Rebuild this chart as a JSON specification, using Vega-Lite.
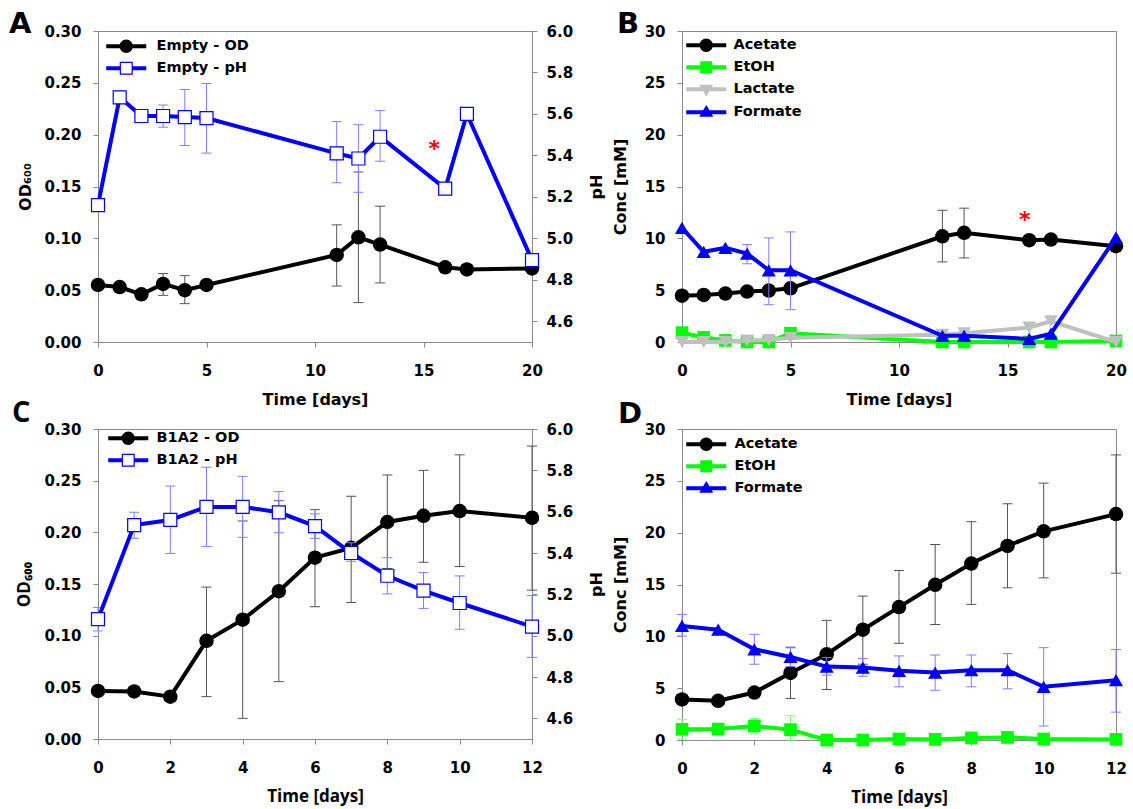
{
  "$schema": "https://vega.github.io/schema/vega-lite/v6.json",
  "background": "white",
  "padding": {"left": 8, "top": 9, "right": 5, "bottom": 2},
  "config": {
    "font": "DejaVu Sans",
    "view": {"stroke": "#8a8a8a", "strokeWidth": 1},
    "axis": {"grid": false, "domainColor": "#8a8a8a", "tickColor": "#8a8a8a", "tickSize": 5, "labelFont": "DejaVu Sans", "labelFontSize": 15, "labelFontWeight": "bold", "labelColor": "#000000", "titleFont": "DejaVu Sans", "titleFontSize": 16, "titleFontWeight": "bold", "titleColor": "#000000", "labelFlush": false, "labelOverlap": false},
    "axisX": {"labelPadding": 16, "titlePadding": 13},
    "axisY": {"labelPadding": 12},
    "title": {"font": "DejaVu Sans", "fontSize": 29, "fontWeight": "bold", "color": "#000000", "anchor": "start", "frame": "group", "offset": 0}
  },
  "datasets": {
    "A": [
      {"t": 0, "s": "Empty - OD", "v": 0.055},
      {"t": 1, "s": "Empty - OD", "v": 0.053},
      {"t": 2, "s": "Empty - OD", "v": 0.046},
      {"t": 3, "s": "Empty - OD", "v": 0.056, "lo": 0.045, "hi": 0.066},
      {"t": 4, "s": "Empty - OD", "v": 0.050, "lo": 0.037, "hi": 0.064},
      {"t": 5, "s": "Empty - OD", "v": 0.055},
      {"t": 11, "s": "Empty - OD", "v": 0.084, "lo": 0.054, "hi": 0.113},
      {"t": 12, "s": "Empty - OD", "v": 0.101, "lo": 0.038, "hi": 0.164},
      {"t": 13, "s": "Empty - OD", "v": 0.094, "lo": 0.057, "hi": 0.131},
      {"t": 16, "s": "Empty - OD", "v": 0.072},
      {"t": 17, "s": "Empty - OD", "v": 0.070},
      {"t": 20, "s": "Empty - OD", "v": 0.071},
      {"t": 0, "s": "Empty - pH", "v": 5.16},
      {"t": 1, "s": "Empty - pH", "v": 5.68, "lo": 5.665, "hi": 5.70},
      {"t": 2, "s": "Empty - pH", "v": 5.59},
      {"t": 3, "s": "Empty - pH", "v": 5.59, "lo": 5.536, "hi": 5.643},
      {"t": 4, "s": "Empty - pH", "v": 5.585, "lo": 5.448, "hi": 5.718},
      {"t": 5, "s": "Empty - pH", "v": 5.58, "lo": 5.411, "hi": 5.747},
      {"t": 11, "s": "Empty - pH", "v": 5.41, "lo": 5.268, "hi": 5.563},
      {"t": 12, "s": "Empty - pH", "v": 5.385, "lo": 5.222, "hi": 5.548},
      {"t": 13, "s": "Empty - pH", "v": 5.49, "lo": 5.372, "hi": 5.616},
      {"t": 16, "s": "Empty - pH", "v": 5.24},
      {"t": 17, "s": "Empty - pH", "v": 5.60},
      {"t": 20, "s": "Empty - pH", "v": 4.895}
    ],
    "B": [
      {"t": 0, "s": "Acetate", "v": 4.47},
      {"t": 1, "s": "Acetate", "v": 4.54},
      {"t": 2, "s": "Acetate", "v": 4.67},
      {"t": 3, "s": "Acetate", "v": 4.86},
      {"t": 4, "s": "Acetate", "v": 4.96},
      {"t": 5, "s": "Acetate", "v": 5.18},
      {"t": 12, "s": "Acetate", "v": 10.2, "lo": 7.73, "hi": 12.71},
      {"t": 13, "s": "Acetate", "v": 10.53, "lo": 8.11, "hi": 12.91},
      {"t": 16, "s": "Acetate", "v": 9.82},
      {"t": 17, "s": "Acetate", "v": 9.88},
      {"t": 20, "s": "Acetate", "v": 9.24},
      {"t": 0, "s": "EtOH", "v": 0.9},
      {"t": 1, "s": "EtOH", "v": 0.45},
      {"t": 2, "s": "EtOH", "v": 0.15},
      {"t": 3, "s": "EtOH", "v": 0},
      {"t": 4, "s": "EtOH", "v": 0},
      {"t": 5, "s": "EtOH", "v": 0.85, "lo": 0.4, "hi": 1.3},
      {"t": 12, "s": "EtOH", "v": 0},
      {"t": 13, "s": "EtOH", "v": 0},
      {"t": 16, "s": "EtOH", "v": 0},
      {"t": 17, "s": "EtOH", "v": 0},
      {"t": 20, "s": "EtOH", "v": 0.1},
      {"t": 0, "s": "Lactate", "v": 0},
      {"t": 1, "s": "Lactate", "v": 0},
      {"t": 2, "s": "Lactate", "v": 0},
      {"t": 3, "s": "Lactate", "v": 0.15},
      {"t": 4, "s": "Lactate", "v": 0.2},
      {"t": 5, "s": "Lactate", "v": 0.4},
      {"t": 12, "s": "Lactate", "v": 0.7},
      {"t": 13, "s": "Lactate", "v": 0.85},
      {"t": 16, "s": "Lactate", "v": 1.4},
      {"t": 17, "s": "Lactate", "v": 2.0},
      {"t": 20, "s": "Lactate", "v": 0},
      {"t": 0, "s": "Formate", "v": 11.0},
      {"t": 1, "s": "Formate", "v": 8.7},
      {"t": 2, "s": "Formate", "v": 9.08},
      {"t": 3, "s": "Formate", "v": 8.53, "lo": 7.55, "hi": 9.4},
      {"t": 4, "s": "Formate", "v": 6.92, "lo": 3.6, "hi": 10.04},
      {"t": 5, "s": "Formate", "v": 6.92, "lo": 3.12, "hi": 10.62},
      {"t": 12, "s": "Formate", "v": 0.6},
      {"t": 13, "s": "Formate", "v": 0.6},
      {"t": 16, "s": "Formate", "v": 0.3},
      {"t": 17, "s": "Formate", "v": 0.8},
      {"t": 20, "s": "Formate", "v": 10.1}
    ],
    "C": [
      {"t": 0, "s": "B1A2 - OD", "v": 0.0465},
      {"t": 1, "s": "B1A2 - OD", "v": 0.046},
      {"t": 2, "s": "B1A2 - OD", "v": 0.041},
      {"t": 3, "s": "B1A2 - OD", "v": 0.095, "lo": 0.041, "hi": 0.147},
      {"t": 4, "s": "B1A2 - OD", "v": 0.1155, "lo": 0.020, "hi": 0.211},
      {"t": 5, "s": "B1A2 - OD", "v": 0.143, "lo": 0.0555, "hi": 0.2306},
      {"t": 6, "s": "B1A2 - OD", "v": 0.1755, "lo": 0.128, "hi": 0.222},
      {"t": 7, "s": "B1A2 - OD", "v": 0.185, "lo": 0.132, "hi": 0.235},
      {"t": 8, "s": "B1A2 - OD", "v": 0.210, "lo": 0.165, "hi": 0.2555},
      {"t": 9, "s": "B1A2 - OD", "v": 0.216, "lo": 0.171, "hi": 0.260},
      {"t": 10, "s": "B1A2 - OD", "v": 0.2206, "lo": 0.167, "hi": 0.275},
      {"t": 12, "s": "B1A2 - OD", "v": 0.214, "lo": 0.144, "hi": 0.2835},
      {"t": 0, "s": "B1A2 - pH", "v": 5.08, "lo": 5.023, "hi": 5.137},
      {"t": 1, "s": "B1A2 - pH", "v": 5.535, "lo": 5.471, "hi": 5.597},
      {"t": 2, "s": "B1A2 - pH", "v": 5.56, "lo": 5.398, "hi": 5.724},
      {"t": 3, "s": "B1A2 - pH", "v": 5.623, "lo": 5.431, "hi": 5.815},
      {"t": 4, "s": "B1A2 - pH", "v": 5.623, "lo": 5.476, "hi": 5.771},
      {"t": 5, "s": "B1A2 - pH", "v": 5.597, "lo": 5.498, "hi": 5.697},
      {"t": 6, "s": "B1A2 - pH", "v": 5.53, "lo": 5.471, "hi": 5.589},
      {"t": 7, "s": "B1A2 - pH", "v": 5.40, "lo": 5.36, "hi": 5.45},
      {"t": 8, "s": "B1A2 - pH", "v": 5.29, "lo": 5.202, "hi": 5.377},
      {"t": 9, "s": "B1A2 - pH", "v": 5.218, "lo": 5.132, "hi": 5.305},
      {"t": 10, "s": "B1A2 - pH", "v": 5.158, "lo": 5.031, "hi": 5.289},
      {"t": 12, "s": "B1A2 - pH", "v": 5.044, "lo": 4.895, "hi": 5.194}
    ],
    "D": [
      {"t": 0, "s": "Acetate", "v": 3.91},
      {"t": 1, "s": "Acetate", "v": 3.78},
      {"t": 2, "s": "Acetate", "v": 4.58},
      {"t": 3, "s": "Acetate", "v": 6.47, "lo": 4.0, "hi": 8.9},
      {"t": 4, "s": "Acetate", "v": 8.27, "lo": 4.87, "hi": 11.54},
      {"t": 5, "s": "Acetate", "v": 10.64, "lo": 7.31, "hi": 13.88},
      {"t": 6, "s": "Acetate", "v": 12.82, "lo": 9.33, "hi": 16.35},
      {"t": 7, "s": "Acetate", "v": 14.97, "lo": 11.15, "hi": 18.85},
      {"t": 8, "s": "Acetate", "v": 17.02, "lo": 13.08, "hi": 21.06},
      {"t": 9, "s": "Acetate", "v": 18.72, "lo": 14.68, "hi": 22.79},
      {"t": 10, "s": "Acetate", "v": 20.13, "lo": 15.64, "hi": 24.78},
      {"t": 12, "s": "Acetate", "v": 21.79, "lo": 16.09, "hi": 27.5},
      {"t": 0, "s": "EtOH", "v": 1.03, "lo": 0.1, "hi": 2.0},
      {"t": 1, "s": "EtOH", "v": 1.06},
      {"t": 2, "s": "EtOH", "v": 1.35, "lo": 0.58, "hi": 2.08},
      {"t": 3, "s": "EtOH", "v": 1.0, "lo": 0, "hi": 2.34},
      {"t": 4, "s": "EtOH", "v": 0},
      {"t": 5, "s": "EtOH", "v": 0},
      {"t": 6, "s": "EtOH", "v": 0.1},
      {"t": 7, "s": "EtOH", "v": 0.06},
      {"t": 8, "s": "EtOH", "v": 0.2},
      {"t": 9, "s": "EtOH", "v": 0.25},
      {"t": 10, "s": "EtOH", "v": 0.1},
      {"t": 12, "s": "EtOH", "v": 0.06},
      {"t": 0, "s": "Formate", "v": 11.0, "lo": 10.03, "hi": 12.12},
      {"t": 1, "s": "Formate", "v": 10.64},
      {"t": 2, "s": "Formate", "v": 8.75, "lo": 7.31, "hi": 10.19},
      {"t": 3, "s": "Formate", "v": 8.01, "lo": 7.08, "hi": 8.97},
      {"t": 4, "s": "Formate", "v": 7.08, "lo": 6.25, "hi": 7.95},
      {"t": 5, "s": "Formate", "v": 6.99, "lo": 6.15, "hi": 7.85},
      {"t": 6, "s": "Formate", "v": 6.67, "lo": 5.13, "hi": 8.11},
      {"t": 7, "s": "Formate", "v": 6.51, "lo": 4.81, "hi": 8.2},
      {"t": 8, "s": "Formate", "v": 6.73, "lo": 5.13, "hi": 8.2},
      {"t": 9, "s": "Formate", "v": 6.73, "lo": 4.94, "hi": 8.33},
      {"t": 10, "s": "Formate", "v": 5.13, "lo": 1.35, "hi": 8.91},
      {"t": 12, "s": "Formate", "v": 5.77, "lo": 2.69, "hi": 8.72}
    ]
  },
  "resolve": {"scale": {"color": "independent", "shape": "independent"}},
  "spacing": -10,
  "vconcat": [
    {
      "spacing": 5,
      "resolve": {"scale": {"color": "independent", "shape": "independent"}},
      "hconcat": [
        {
          "width": 434, "height": 311,
          "title": {"text": "A", "dx": -89, "dy": 19},
          "data": {"name": "A"},
          "resolve": {"scale": {"y": "independent"}},
          "layer": [
            {
              "layer": [
                {"transform": [{"filter": "datum.s === 'Empty - OD' && isValid(datum.lo)"}],
                 "mark": {"type": "rule", "color": "#555555", "strokeWidth": 1},
                 "encoding": {
                   "x": {"field": "t", "type": "quantitative", "scale": {"domain": [0, 20], "nice": false}, "axis": {"values": [0, 5, 10, 15, 20], "title": "Time [days]"}},
                   "y": {"field": "lo", "type": "quantitative", "scale": {"domain": [0, 0.3], "nice": false}, "axis": {"orient": "left", "values": [0, 0.05, 0.1, 0.15, 0.2, 0.25, 0.3], "format": ".2f", "title": "OD₆₀₀", "titlePadding": 10}},
                   "y2": {"field": "hi"}}},
                {"transform": [{"filter": "datum.s === 'Empty - OD' && isValid(datum.lo)"}],
                 "mark": {"type": "tick", "orient": "horizontal", "color": "#555555", "thickness": 1, "size": 10, "opacity": 1},
                 "encoding": {"x": {"field": "t", "type": "quantitative"}, "y": {"field": "lo", "type": "quantitative"}}},
                {"transform": [{"filter": "datum.s === 'Empty - OD' && isValid(datum.lo)"}],
                 "mark": {"type": "tick", "orient": "horizontal", "color": "#555555", "thickness": 1, "size": 10, "opacity": 1},
                 "encoding": {"x": {"field": "t", "type": "quantitative"}, "y": {"field": "hi", "type": "quantitative"}}},
                {"transform": [{"filter": "datum.s === 'Empty - OD'"}],
                 "mark": {"type": "line", "color": "#000000", "strokeWidth": 4},
                 "encoding": {"x": {"field": "t", "type": "quantitative"}, "y": {"field": "v", "type": "quantitative"}}},
                {"transform": [{"filter": "datum.s === 'Empty - OD'"}],
                 "mark": {"type": "point", "shape": "circle", "filled": true, "color": "#000000", "size": 210, "opacity": 1},
                 "encoding": {"x": {"field": "t", "type": "quantitative"}, "y": {"field": "v", "type": "quantitative"}}},
                {"mark": {"type": "point", "filled": true, "opacity": 0},
                 "encoding": {
                   "color": {"field": "s", "type": "nominal", "scale": {"domain": ["Empty - OD", "Empty - pH"], "range": ["#000000", "#0000ff"]},
                     "legend": {"title": null, "orient": "none", "legendX": 21, "legendY": 8, "symbolSize": 196, "symbolStrokeWidth": 0, "symbolOpacity": 1, "labelOffset": 23, "rowPadding": 7, "padding": 0, "labelFont": "DejaVu Sans", "labelFontWeight": "bold", "labelFontSize": 14.5, "labelColor": "#000000"}},
                   "shape": {"field": "s", "type": "nominal", "scale": {"domain": ["Empty - OD", "Empty - pH"], "range": ["M-2.86,-0.29H2.86V0.29H-2.86Z M-0.95,0A0.95,0.95,0,1,1,0.95,0A0.95,0.95,0,1,1,-0.95,0Z", "M-2.86,-0.29H-0.93V0.29H-2.86Z M0.93,-0.29H2.86V0.29H0.93Z M-0.93,-0.93H0.93V0.93H-0.93Z M-0.76,-0.76V0.76H0.76V-0.76Z"]},
                     "legend": {"title": null, "orient": "none", "legendX": 21, "legendY": 8, "symbolSize": 196, "symbolStrokeWidth": 0, "symbolOpacity": 1, "labelOffset": 23, "rowPadding": 7, "padding": 0, "labelFont": "DejaVu Sans", "labelFontWeight": "bold", "labelFontSize": 14.5, "labelColor": "#000000"}}}}
              ]
            },
            {
              "layer": [
                {"transform": [{"filter": "datum.s === 'Empty - pH' && isValid(datum.lo)"}],
                 "mark": {"type": "rule", "color": "#7f7fff", "strokeWidth": 1},
                 "encoding": {
                   "x": {"field": "t", "type": "quantitative"},
                   "y": {"field": "lo", "type": "quantitative", "scale": {"domain": [4.5, 6.0], "nice": false, "zero": false}, "axis": {"orient": "right", "values": [4.6, 4.8, 5.0, 5.2, 5.4, 5.6, 5.8, 6.0], "format": ".1f", "title": "pH", "titleAngle": 270, "titleBaseline": "top", "titlePadding": 16, "labelPadding": 9}},
                   "y2": {"field": "hi"}}},
                {"transform": [{"filter": "datum.s === 'Empty - pH' && isValid(datum.lo)"}],
                 "mark": {"type": "tick", "orient": "horizontal", "color": "#7f7fff", "thickness": 1, "size": 10, "opacity": 1},
                 "encoding": {"x": {"field": "t", "type": "quantitative"}, "y": {"field": "lo", "type": "quantitative"}}},
                {"transform": [{"filter": "datum.s === 'Empty - pH' && isValid(datum.lo)"}],
                 "mark": {"type": "tick", "orient": "horizontal", "color": "#7f7fff", "thickness": 1, "size": 10, "opacity": 1},
                 "encoding": {"x": {"field": "t", "type": "quantitative"}, "y": {"field": "hi", "type": "quantitative"}}},
                {"transform": [{"filter": "datum.s === 'Empty - pH'"}],
                 "mark": {"type": "line", "color": "#0000ff", "strokeWidth": 4},
                 "encoding": {"x": {"field": "t", "type": "quantitative"}, "y": {"field": "v", "type": "quantitative"}}},
                {"transform": [{"filter": "datum.s === 'Empty - pH'"}],
                 "mark": {"type": "point", "shape": "square", "filled": true, "fill": "#ffffff", "stroke": "#0000ff", "strokeWidth": 1.2, "size": 169, "opacity": 1},
                 "encoding": {"x": {"field": "t", "type": "quantitative"}, "y": {"field": "v", "type": "quantitative"}}},
                {"data": {"values": [{"t": 15.5, "v": 5.45}]},
                 "mark": {"type": "text", "text": "*", "color": "#ff0000", "fontSize": 22, "font": "DejaVu Sans", "fontWeight": "bold", "baseline": "middle", "dy": 4},
                 "encoding": {"x": {"field": "t", "type": "quantitative"}, "y": {"field": "v", "type": "quantitative"}}}
              ]
            }
          ]
        },
        {
          "width": 434, "height": 311,
          "title": {"text": "B", "dx": -65, "dy": 19},
          "data": {"name": "B"},
          "layer": [
            {"transform": [{"filter": "datum.s === 'Acetate' && isValid(datum.lo)"}],
             "mark": {"type": "rule", "color": "#555555", "strokeWidth": 1},
             "encoding": {
               "x": {"field": "t", "type": "quantitative", "scale": {"domain": [0, 20], "nice": false}, "axis": {"values": [0, 5, 10, 15, 20], "title": "Time [days]"}},
               "y": {"field": "lo", "type": "quantitative", "scale": {"domain": [0, 30], "nice": false}, "axis": {"orient": "left", "values": [0, 5, 10, 15, 20, 25, 30], "title": "Conc [mM]", "titlePadding": 16}},
               "y2": {"field": "hi"}}},
            {"transform": [{"filter": "datum.s === 'Acetate' && isValid(datum.lo)"}],
             "mark": {"type": "tick", "orient": "horizontal", "color": "#555555", "thickness": 1, "size": 10, "opacity": 1},
             "encoding": {"x": {"field": "t", "type": "quantitative"}, "y": {"field": "lo", "type": "quantitative"}}},
            {"transform": [{"filter": "datum.s === 'Acetate' && isValid(datum.lo)"}],
             "mark": {"type": "tick", "orient": "horizontal", "color": "#555555", "thickness": 1, "size": 10, "opacity": 1},
             "encoding": {"x": {"field": "t", "type": "quantitative"}, "y": {"field": "hi", "type": "quantitative"}}},
            {"transform": [{"filter": "datum.s === 'Acetate'"}],
             "mark": {"type": "line", "color": "#000000", "strokeWidth": 4},
             "encoding": {"x": {"field": "t", "type": "quantitative"}, "y": {"field": "v", "type": "quantitative"}}},
            {"transform": [{"filter": "datum.s === 'Acetate'"}],
             "mark": {"type": "point", "shape": "circle", "filled": true, "color": "#000000", "size": 210, "opacity": 1},
             "encoding": {"x": {"field": "t", "type": "quantitative"}, "y": {"field": "v", "type": "quantitative"}}},
            {"transform": [{"filter": "datum.s === 'EtOH' && isValid(datum.lo)"}],
             "mark": {"type": "rule", "color": "#80ff80", "strokeWidth": 1},
             "encoding": {"x": {"field": "t", "type": "quantitative"}, "y": {"field": "lo", "type": "quantitative"}, "y2": {"field": "hi"}}},
            {"transform": [{"filter": "datum.s === 'EtOH' && isValid(datum.lo)"}],
             "mark": {"type": "tick", "orient": "horizontal", "color": "#80ff80", "thickness": 1, "size": 10, "opacity": 1},
             "encoding": {"x": {"field": "t", "type": "quantitative"}, "y": {"field": "hi", "type": "quantitative"}}},
            {"transform": [{"filter": "datum.s === 'EtOH'"}],
             "mark": {"type": "line", "color": "#00ff00", "strokeWidth": 4},
             "encoding": {"x": {"field": "t", "type": "quantitative"}, "y": {"field": "v", "type": "quantitative"}}},
            {"transform": [{"filter": "datum.s === 'EtOH'"}],
             "mark": {"type": "point", "shape": "square", "filled": true, "color": "#00ff00", "size": 160, "opacity": 1},
             "encoding": {"x": {"field": "t", "type": "quantitative"}, "y": {"field": "v", "type": "quantitative"}}},
            {"transform": [{"filter": "datum.s === 'Lactate'"}],
             "mark": {"type": "line", "color": "#c0c0c0", "strokeWidth": 4},
             "encoding": {"x": {"field": "t", "type": "quantitative"}, "y": {"field": "v", "type": "quantitative"}}},
            {"transform": [{"filter": "datum.s === 'Lactate'"}],
             "mark": {"type": "point", "shape": "triangle-down", "filled": true, "color": "#c0c0c0", "size": 190, "opacity": 1},
             "encoding": {"x": {"field": "t", "type": "quantitative"}, "y": {"field": "v", "type": "quantitative"}}},
            {"transform": [{"filter": "datum.s === 'Formate' && isValid(datum.lo)"}],
             "mark": {"type": "rule", "color": "#7f7fff", "strokeWidth": 1},
             "encoding": {"x": {"field": "t", "type": "quantitative"}, "y": {"field": "lo", "type": "quantitative"}, "y2": {"field": "hi"}}},
            {"transform": [{"filter": "datum.s === 'Formate' && isValid(datum.lo)"}],
             "mark": {"type": "tick", "orient": "horizontal", "color": "#7f7fff", "thickness": 1, "size": 10, "opacity": 1},
             "encoding": {"x": {"field": "t", "type": "quantitative"}, "y": {"field": "lo", "type": "quantitative"}}},
            {"transform": [{"filter": "datum.s === 'Formate' && isValid(datum.lo)"}],
             "mark": {"type": "tick", "orient": "horizontal", "color": "#7f7fff", "thickness": 1, "size": 10, "opacity": 1},
             "encoding": {"x": {"field": "t", "type": "quantitative"}, "y": {"field": "hi", "type": "quantitative"}}},
            {"transform": [{"filter": "datum.s === 'Formate'"}],
             "mark": {"type": "line", "color": "#0000ff", "strokeWidth": 4},
             "encoding": {"x": {"field": "t", "type": "quantitative"}, "y": {"field": "v", "type": "quantitative"}}},
            {"transform": [{"filter": "datum.s === 'Formate'"}],
             "mark": {"type": "point", "shape": "triangle-up", "filled": true, "color": "#0000ff", "size": 200, "opacity": 1},
             "encoding": {"x": {"field": "t", "type": "quantitative"}, "y": {"field": "v", "type": "quantitative"}}},
            {"data": {"values": [{"t": 15.8, "v": 12.2}]},
             "mark": {"type": "text", "text": "*", "color": "#ff0000", "fontSize": 22, "font": "DejaVu Sans", "fontWeight": "bold", "baseline": "middle", "dy": 4},
             "encoding": {"x": {"field": "t", "type": "quantitative"}, "y": {"field": "v", "type": "quantitative"}}},
            {"mark": {"type": "point", "filled": true, "opacity": 0},
             "encoding": {
               "color": {"field": "s", "type": "nominal", "scale": {"domain": ["Acetate", "EtOH", "Lactate", "Formate"], "range": ["#000000", "#00ff00", "#c0c0c0", "#0000ff"]},
                 "legend": {"title": null, "orient": "none", "legendX": 17, "legendY": 7, "symbolSize": 196, "symbolStrokeWidth": 0, "symbolOpacity": 1, "labelOffset": 20, "rowPadding": 7, "padding": 0, "labelFont": "DejaVu Sans", "labelFontWeight": "bold", "labelFontSize": 14.5, "labelColor": "#000000"}},
               "shape": {"field": "s", "type": "nominal", "scale": {"domain": ["Acetate", "EtOH", "Lactate", "Formate"], "range": ["M-2.86,-0.29H2.86V0.29H-2.86Z M-0.95,0A0.95,0.95,0,1,1,0.95,0A0.95,0.95,0,1,1,-0.95,0Z", "M-2.86,-0.29H2.86V0.29H-2.86Z M-0.86,-0.86H0.86V0.86H-0.86Z", "M-2.86,-0.29H2.86V0.29H-2.86Z M-1,-0.65H1L0,1.05Z", "M-2.86,-0.29H2.86V0.29H-2.86Z M0,-1.05L1,0.65H-1Z"]},
                 "legend": {"title": null, "orient": "none", "legendX": 17, "legendY": 7, "symbolSize": 196, "symbolStrokeWidth": 0, "symbolOpacity": 1, "labelOffset": 20, "rowPadding": 7, "padding": 0, "labelFont": "DejaVu Sans", "labelFontWeight": "bold", "labelFontSize": 14.5, "labelColor": "#000000"}}}}
          ]
        }
      ]
    },
    {
      "spacing": 5,
      "resolve": {"scale": {"color": "independent", "shape": "independent"}},
      "hconcat": [
        {
          "width": 434, "height": 310,
          "title": {"text": "C", "dx": -86, "dy": 10, "font": "Open Sans"},
          "data": {"name": "C"},
          "resolve": {"scale": {"y": "independent"}},
          "layer": [
            {
              "layer": [
                {"transform": [{"filter": "datum.s === 'B1A2 - OD' && isValid(datum.lo)"}],
                 "mark": {"type": "rule", "color": "#555555", "strokeWidth": 1},
                 "encoding": {
                   "x": {"field": "t", "type": "quantitative", "scale": {"domain": [0, 12], "nice": false}, "axis": {"values": [0, 2, 4, 6, 8, 10, 12], "title": "Time [days]", "titleFont": "Open Sans", "titleFontSize": 17}},
                   "y": {"field": "lo", "type": "quantitative", "scale": {"domain": [0, 0.3], "nice": false}, "axis": {"orient": "left", "values": [0, 0.05, 0.1, 0.15, 0.2, 0.25, 0.3], "format": ".2f", "title": "OD₆₀₀", "titlePadding": 10, "titleFont": "Open Sans", "titleFontSize": 17}},
                   "y2": {"field": "hi"}}},
                {"transform": [{"filter": "datum.s === 'B1A2 - OD' && isValid(datum.lo)"}],
                 "mark": {"type": "tick", "orient": "horizontal", "color": "#555555", "thickness": 1, "size": 10, "opacity": 1},
                 "encoding": {"x": {"field": "t", "type": "quantitative"}, "y": {"field": "lo", "type": "quantitative"}}},
                {"transform": [{"filter": "datum.s === 'B1A2 - OD' && isValid(datum.lo)"}],
                 "mark": {"type": "tick", "orient": "horizontal", "color": "#555555", "thickness": 1, "size": 10, "opacity": 1},
                 "encoding": {"x": {"field": "t", "type": "quantitative"}, "y": {"field": "hi", "type": "quantitative"}}},
                {"transform": [{"filter": "datum.s === 'B1A2 - OD'"}],
                 "mark": {"type": "line", "color": "#000000", "strokeWidth": 4},
                 "encoding": {"x": {"field": "t", "type": "quantitative"}, "y": {"field": "v", "type": "quantitative"}}},
                {"transform": [{"filter": "datum.s === 'B1A2 - OD'"}],
                 "mark": {"type": "point", "shape": "circle", "filled": true, "color": "#000000", "size": 210, "opacity": 1},
                 "encoding": {"x": {"field": "t", "type": "quantitative"}, "y": {"field": "v", "type": "quantitative"}}},
                {"mark": {"type": "point", "filled": true, "opacity": 0},
                 "encoding": {
                   "color": {"field": "s", "type": "nominal", "scale": {"domain": ["B1A2 - OD", "B1A2 - pH"], "range": ["#000000", "#0000ff"]},
                     "legend": {"title": null, "orient": "none", "legendX": 23, "legendY": 2, "symbolSize": 196, "symbolStrokeWidth": 0, "symbolOpacity": 1, "labelOffset": 21, "rowPadding": 7, "padding": 0, "labelFont": "DejaVu Sans", "labelFontWeight": "bold", "labelFontSize": 14.5, "labelColor": "#000000"}},
                   "shape": {"field": "s", "type": "nominal", "scale": {"domain": ["B1A2 - OD", "B1A2 - pH"], "range": ["M-2.86,-0.29H2.86V0.29H-2.86Z M-0.95,0A0.95,0.95,0,1,1,0.95,0A0.95,0.95,0,1,1,-0.95,0Z", "M-2.86,-0.29H-0.93V0.29H-2.86Z M0.93,-0.29H2.86V0.29H0.93Z M-0.93,-0.93H0.93V0.93H-0.93Z M-0.76,-0.76V0.76H0.76V-0.76Z"]},
                     "legend": {"title": null, "orient": "none", "legendX": 23, "legendY": 2, "symbolSize": 196, "symbolStrokeWidth": 0, "symbolOpacity": 1, "labelOffset": 21, "rowPadding": 7, "padding": 0, "labelFont": "DejaVu Sans", "labelFontWeight": "bold", "labelFontSize": 14.5, "labelColor": "#000000"}}}}
              ]
            },
            {
              "layer": [
                {"transform": [{"filter": "datum.s === 'B1A2 - pH' && isValid(datum.lo)"}],
                 "mark": {"type": "rule", "color": "#7f7fff", "strokeWidth": 1},
                 "encoding": {
                   "x": {"field": "t", "type": "quantitative"},
                   "y": {"field": "lo", "type": "quantitative", "scale": {"domain": [4.5, 6.0], "nice": false, "zero": false}, "axis": {"orient": "right", "values": [4.6, 4.8, 5.0, 5.2, 5.4, 5.6, 5.8, 6.0], "format": ".1f", "title": "pH", "titleAngle": 270, "titleBaseline": "top", "titlePadding": 16, "labelPadding": 9}},
                   "y2": {"field": "hi"}}},
                {"transform": [{"filter": "datum.s === 'B1A2 - pH' && isValid(datum.lo)"}],
                 "mark": {"type": "tick", "orient": "horizontal", "color": "#7f7fff", "thickness": 1, "size": 10, "opacity": 1},
                 "encoding": {"x": {"field": "t", "type": "quantitative"}, "y": {"field": "lo", "type": "quantitative"}}},
                {"transform": [{"filter": "datum.s === 'B1A2 - pH' && isValid(datum.lo)"}],
                 "mark": {"type": "tick", "orient": "horizontal", "color": "#7f7fff", "thickness": 1, "size": 10, "opacity": 1},
                 "encoding": {"x": {"field": "t", "type": "quantitative"}, "y": {"field": "hi", "type": "quantitative"}}},
                {"transform": [{"filter": "datum.s === 'B1A2 - pH'"}],
                 "mark": {"type": "line", "color": "#0000ff", "strokeWidth": 4},
                 "encoding": {"x": {"field": "t", "type": "quantitative"}, "y": {"field": "v", "type": "quantitative"}}},
                {"transform": [{"filter": "datum.s === 'B1A2 - pH'"}],
                 "mark": {"type": "point", "shape": "square", "filled": true, "fill": "#ffffff", "stroke": "#0000ff", "strokeWidth": 1.2, "size": 169, "opacity": 1},
                 "encoding": {"x": {"field": "t", "type": "quantitative"}, "y": {"field": "v", "type": "quantitative"}}}
              ]
            }
          ]
        },
        {
          "width": 434, "height": 311,
          "title": {"text": "D", "dx": -64, "dy": 11},
          "data": {"name": "D"},
          "layer": [
            {"transform": [{"filter": "datum.s === 'Acetate' && isValid(datum.lo)"}],
             "mark": {"type": "rule", "color": "#555555", "strokeWidth": 1},
             "encoding": {
               "x": {"field": "t", "type": "quantitative", "scale": {"domain": [0, 12], "nice": false}, "axis": {"values": [0, 2, 4, 6, 8, 10, 12], "title": "Time [days]", "titleFont": "Open Sans", "titleFontSize": 17}},
               "y": {"field": "lo", "type": "quantitative", "scale": {"domain": [0, 30], "nice": false}, "axis": {"orient": "left", "values": [0, 5, 10, 15, 20, 25, 30], "title": "Conc [mM]", "titlePadding": 16}},
               "y2": {"field": "hi"}}},
            {"transform": [{"filter": "datum.s === 'Acetate' && isValid(datum.lo)"}],
             "mark": {"type": "tick", "orient": "horizontal", "color": "#555555", "thickness": 1, "size": 10, "opacity": 1},
             "encoding": {"x": {"field": "t", "type": "quantitative"}, "y": {"field": "lo", "type": "quantitative"}}},
            {"transform": [{"filter": "datum.s === 'Acetate' && isValid(datum.lo)"}],
             "mark": {"type": "tick", "orient": "horizontal", "color": "#555555", "thickness": 1, "size": 10, "opacity": 1},
             "encoding": {"x": {"field": "t", "type": "quantitative"}, "y": {"field": "hi", "type": "quantitative"}}},
            {"transform": [{"filter": "datum.s === 'Acetate'"}],
             "mark": {"type": "line", "color": "#000000", "strokeWidth": 4},
             "encoding": {"x": {"field": "t", "type": "quantitative"}, "y": {"field": "v", "type": "quantitative"}}},
            {"transform": [{"filter": "datum.s === 'Acetate'"}],
             "mark": {"type": "point", "shape": "circle", "filled": true, "color": "#000000", "size": 210, "opacity": 1},
             "encoding": {"x": {"field": "t", "type": "quantitative"}, "y": {"field": "v", "type": "quantitative"}}},
            {"transform": [{"filter": "datum.s === 'EtOH' && isValid(datum.lo)"}],
             "mark": {"type": "rule", "color": "#80ff80", "strokeWidth": 1},
             "encoding": {"x": {"field": "t", "type": "quantitative"}, "y": {"field": "lo", "type": "quantitative"}, "y2": {"field": "hi"}}},
            {"transform": [{"filter": "datum.s === 'EtOH' && isValid(datum.lo)"}],
             "mark": {"type": "tick", "orient": "horizontal", "color": "#80ff80", "thickness": 1, "size": 10, "opacity": 1},
             "encoding": {"x": {"field": "t", "type": "quantitative"}, "y": {"field": "lo", "type": "quantitative"}}},
            {"transform": [{"filter": "datum.s === 'EtOH' && isValid(datum.lo)"}],
             "mark": {"type": "tick", "orient": "horizontal", "color": "#80ff80", "thickness": 1, "size": 10, "opacity": 1},
             "encoding": {"x": {"field": "t", "type": "quantitative"}, "y": {"field": "hi", "type": "quantitative"}}},
            {"transform": [{"filter": "datum.s === 'EtOH'"}],
             "mark": {"type": "line", "color": "#00ff00", "strokeWidth": 4},
             "encoding": {"x": {"field": "t", "type": "quantitative"}, "y": {"field": "v", "type": "quantitative"}}},
            {"transform": [{"filter": "datum.s === 'EtOH'"}],
             "mark": {"type": "point", "shape": "square", "filled": true, "color": "#00ff00", "size": 160, "opacity": 1},
             "encoding": {"x": {"field": "t", "type": "quantitative"}, "y": {"field": "v", "type": "quantitative"}}},
            {"transform": [{"filter": "datum.s === 'Formate' && isValid(datum.lo)"}],
             "mark": {"type": "rule", "color": "#7f7fff", "strokeWidth": 1},
             "encoding": {"x": {"field": "t", "type": "quantitative"}, "y": {"field": "lo", "type": "quantitative"}, "y2": {"field": "hi"}}},
            {"transform": [{"filter": "datum.s === 'Formate' && isValid(datum.lo)"}],
             "mark": {"type": "tick", "orient": "horizontal", "color": "#7f7fff", "thickness": 1, "size": 10, "opacity": 1},
             "encoding": {"x": {"field": "t", "type": "quantitative"}, "y": {"field": "lo", "type": "quantitative"}}},
            {"transform": [{"filter": "datum.s === 'Formate' && isValid(datum.lo)"}],
             "mark": {"type": "tick", "orient": "horizontal", "color": "#7f7fff", "thickness": 1, "size": 10, "opacity": 1},
             "encoding": {"x": {"field": "t", "type": "quantitative"}, "y": {"field": "hi", "type": "quantitative"}}},
            {"transform": [{"filter": "datum.s === 'Formate'"}],
             "mark": {"type": "line", "color": "#0000ff", "strokeWidth": 4},
             "encoding": {"x": {"field": "t", "type": "quantitative"}, "y": {"field": "v", "type": "quantitative"}}},
            {"transform": [{"filter": "datum.s === 'Formate'"}],
             "mark": {"type": "point", "shape": "triangle-up", "filled": true, "color": "#0000ff", "size": 200, "opacity": 1},
             "encoding": {"x": {"field": "t", "type": "quantitative"}, "y": {"field": "v", "type": "quantitative"}}},
            {"mark": {"type": "point", "filled": true, "opacity": 0},
             "encoding": {
               "color": {"field": "s", "type": "nominal", "scale": {"domain": ["Acetate", "EtOH", "Formate"], "range": ["#000000", "#00ff00", "#0000ff"]},
                 "legend": {"title": null, "orient": "none", "legendX": 17, "legendY": 8, "symbolSize": 196, "symbolStrokeWidth": 0, "symbolOpacity": 1, "labelOffset": 21, "rowPadding": 7, "padding": 0, "labelFont": "DejaVu Sans", "labelFontWeight": "bold", "labelFontSize": 14.5, "labelColor": "#000000"}},
               "shape": {"field": "s", "type": "nominal", "scale": {"domain": ["Acetate", "EtOH", "Formate"], "range": ["M-2.86,-0.29H2.86V0.29H-2.86Z M-0.95,0A0.95,0.95,0,1,1,0.95,0A0.95,0.95,0,1,1,-0.95,0Z", "M-2.86,-0.29H2.86V0.29H-2.86Z M-0.86,-0.86H0.86V0.86H-0.86Z", "M-2.86,-0.29H2.86V0.29H-2.86Z M0,-1.05L1,0.65H-1Z"]},
                 "legend": {"title": null, "orient": "none", "legendX": 17, "legendY": 8, "symbolSize": 196, "symbolStrokeWidth": 0, "symbolOpacity": 1, "labelOffset": 21, "rowPadding": 7, "padding": 0, "labelFont": "DejaVu Sans", "labelFontWeight": "bold", "labelFontSize": 14.5, "labelColor": "#000000"}}}}
          ]
        }
      ]
    }
  ]
}
